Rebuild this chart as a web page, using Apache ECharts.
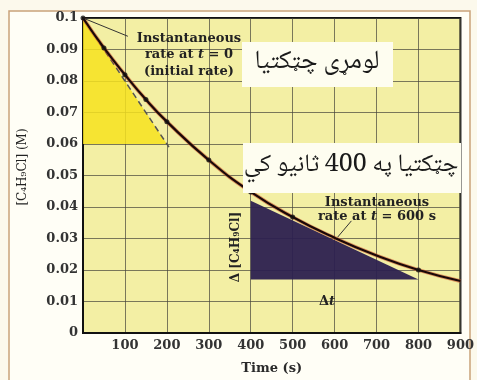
<!DOCTYPE html>
<html>
<head>
<meta charset="utf-8">
<script src="https://cdn.jsdelivr.net/npm/echarts@6/dist/echarts.min.js"></script>
<style>
  html, body { margin: 0; padding: 0; background: #fcf9ec; }
  #chart { width: 477px; height: 380px; }
</style>
</head>
<body>
<div id="chart"></div>
<script>
// Concentration of C4H9Cl over time
const times = [0, 50, 100, 150, 200, 300, 400, 500, 600, 700, 800, 900];
const concentration = [0.1000, 0.0905, 0.0820, 0.0741, 0.0671, 0.0549, 0.0448, 0.0368, 0.0302, 0.0246, 0.0200, 0.0165];

// Measured samples shown as dots on the curve
const sampleTimes = [0, 50, 100, 150, 200, 300, 400, 500, 800];
const sampleConc = [0.1000, 0.0905, 0.0820, 0.0741, 0.0671, 0.0549, 0.0448, 0.0368, 0.0200];

// Tangent at t = 0 and its rise/run triangle
const initialTangent = [[0, 0.100], [205, 0.059]];
const initialTriangle = [[0, 0.100], [0, 0.060], [200, 0.060]];

// Rise/run triangle for the tangent at t = 600 s
const rateTriangle = [[400, 0.042], [400, 0.017], [800, 0.017]];

// Pointer lines from the notes to the curve
const pointer600 = [[607, 0.0304], [640, 0.0356]];
const pointer0 = [[0, 0.100], [107, 0.0942]];

// Tick labels
const xTickLabels = ['', '100', '200', '300', '400', '500', '600', '700', '800', '900'];
const yTickLabels = ['0', '0.01', '0.02', '0.03', '0.04', '0.05', '0.06', '0.07', '0.08', '0.09', '0.1'];

const serif = '"DejaVu Serif", "Liberation Serif", serif';
const arabic = '"Noto Naskh Arabic", "DejaVu Sans", sans-serif';

const chart = echarts.init(document.getElementById('chart'));

function polygonSeries(vertices, color, opacity, z) {
  return {
    type: 'custom',
    coordinateSystem: 'cartesian2d',
    data: [[vertices[0][0], vertices[0][1]]],
    z: z,
    silent: true,
    renderItem: function (params, api) {
      return {
        type: 'polygon',
        shape: { points: vertices.map(v => api.coord(v)) },
        style: { fill: color, opacity: opacity }
      };
    }
  };
}

const curve = times.map((t, i) => [t, concentration[i]]);
const samples = sampleTimes.map((t, i) => [t, sampleConc[i]]);
const italicT = { fontStyle: 'italic', fontWeight: 'bold', fontSize: 13, fontFamily: serif, fill: '#222' };

chart.setOption({
  animation: false,
  backgroundColor: '#fcf9ec',
  grid: {
    left: 83, right: 14, top: 18, bottom: 36,
    show: true,
    backgroundColor: '#f3efa4',
    borderColor: '#111',
    borderWidth: 2
  },
  xAxis: {
    type: 'value',
    min: 0, max: 900, interval: 100,
    name: 'Time (s)',
    nameLocation: 'middle',
    nameGap: 29,
    nameTextStyle: { fontFamily: serif, fontWeight: 'bold', fontSize: 13, color: '#2a2a2a' },
    axisLine: { lineStyle: { color: '#111', width: 2 } },
    axisTick: { show: false },
    axisLabel: {
      margin: 6,
      fontFamily: serif, fontWeight: 'bold', fontSize: 13, color: '#333',
      formatter: (v) => xTickLabels[Math.round(v / 100)]
    },
    splitLine: { show: true, lineStyle: { color: '#45453a', width: 1, opacity: 0.7 } }
  },
  yAxis: {
    type: 'value',
    min: 0, max: 0.1, interval: 0.01,
    axisLine: { show: true, lineStyle: { color: '#111', width: 2 } },
    axisTick: { show: false },
    axisLabel: {
      margin: 5,
      fontFamily: serif, fontWeight: 'bold', fontSize: 13, color: '#333',
      formatter: (v) => yTickLabels[Math.round(v * 100)]
    },
    splitLine: { show: true, lineStyle: { color: '#45453a', width: 1, opacity: 0.7 } }
  },
  series: [
    polygonSeries(initialTriangle, '#f6e21e', 0.85, 1),
    polygonSeries(rateTriangle, '#2c2050', 0.95, 1),
    {
      type: 'line', data: initialTangent, symbol: 'none', z: 2, silent: true,
      lineStyle: { color: '#555', width: 1.5, type: [6, 4] }
    },
    {
      type: 'line', data: curve, smooth: true, symbol: 'none', z: 3, silent: true,
      lineStyle: { color: '#c8502a', width: 3.8, opacity: 0.6 }
    },
    {
      type: 'line', data: curve, smooth: true, symbol: 'none', z: 4, silent: true,
      lineStyle: { color: '#1a0808', width: 2.2 }
    },
    {
      type: 'scatter', data: samples, symbolSize: 5, z: 5, silent: true,
      itemStyle: { color: '#111' }
    },
    {
      type: 'line', data: pointer0, symbol: 'none', z: 5, silent: true,
      lineStyle: { color: '#333', width: 1 }
    },
    {
      type: 'line', data: pointer600, symbol: 'none', z: 5, silent: true,
      lineStyle: { color: '#333', width: 1 }
    }
  ],
  graphic: [
    {
      type: 'rect', z: -10, silent: true,
      shape: { x: 9, y: 11, width: 461, height: 400 },
      style: { fill: '#fffef6', stroke: '#c9a27a', lineWidth: 1.5 }
    },
    {
      type: 'text', z: 100, x: 189, y: 30, silent: true,
      style: {
        text: 'Instantaneous\nrate at {i|t} = 0\n(initial rate)',
        align: 'center', verticalAlign: 'top', lineHeight: 16.5,
        font: 'bold 13px ' + serif, fill: '#222',
        rich: { i: italicT }
      }
    },
    {
      type: 'text', z: 100, x: 377, y: 195, silent: true,
      style: {
        text: 'Instantaneous\nrate at {i|t} = 600 s',
        align: 'center', verticalAlign: 'top', lineHeight: 14.5,
        font: 'bold 13px ' + serif, fill: '#222',
        rich: { i: italicT }
      }
    },
    {
      type: 'text', z: 100, x: 327, y: 302, silent: true,
      style: {
        text: 'Δ{i|t}', align: 'center', verticalAlign: 'middle',
        font: 'bold 13px ' + serif, fill: '#222',
        rich: { i: italicT }
      }
    },
    {
      type: 'text', z: 100, x: 236, y: 247, rotation: Math.PI / 2, silent: true,
      style: {
        text: 'Δ [C₄H₉Cl]', align: 'center', verticalAlign: 'middle',
        font: 'bold 12px ' + serif, fill: '#222'
      }
    },
    {
      type: 'text', z: 100, x: 23, y: 167, rotation: Math.PI / 2, silent: true,
      style: {
        text: '[C₄H₉Cl] (M)', align: 'center', verticalAlign: 'middle',
        font: '12px ' + serif, fill: '#222'
      }
    },
    {
      type: 'rect', z: 110, silent: true,
      shape: { x: 242, y: 42, width: 151, height: 45 },
      style: { fill: '#fefdf0' }
    },
    {
      type: 'text', z: 111, x: 317, y: 65, silent: true,
      style: {
        text: 'لومړی چټکتیا', align: 'center', verticalAlign: 'middle',
        font: '26px ' + arabic, fill: '#1a1a1a'
      }
    },
    {
      type: 'rect', z: 110, silent: true,
      shape: { x: 243, y: 143, width: 218, height: 50 },
      style: { fill: '#fefdf0' }
    },
    {
      type: 'text', z: 111, x: 351, y: 168, silent: true,
      style: {
        text: 'چټکتیا په 400 ثانیو کي', align: 'center', verticalAlign: 'middle',
        font: '25px ' + arabic, fill: '#1a1a1a'
      }
    }
  ]
});
</script>
</body>
</html>
